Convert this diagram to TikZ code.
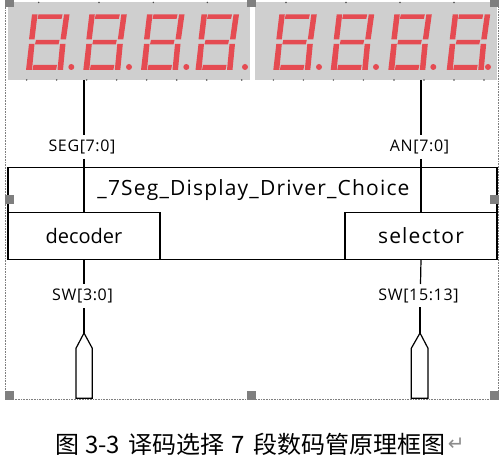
\documentclass[tikz,border=0pt]{standalone}
\usepackage{fontspec}
\setmainfont{Open Sans}
\newfontfamily\cjkfont{Noto Sans CJK SC}[Scale=1]
\newfontfamily\symfont{DejaVu Sans}
\newfontfamily\widefont{Open Sans}[LetterSpace=5.6]
\newfontfamily\labelfont{Open Sans}[LetterSpace=4]
\usetikzlibrary{positioning,calc}
\tikzset{>=latex}
\definecolor{panelgray}{HTML}{CFCFCF}
\definecolor{segred}{HTML}{E54B52}
\definecolor{handlegray}{HTML}{7F7F7F}
\tikzset{
    panel/.style={fill=panelgray,draw=none,minimum width=242pt,minimum height=78pt,inner sep=0pt},
    box/.style={draw=black,line width=1.2pt,inner sep=0pt,font=\fontsize{20}{24}\selectfont},
    portlabel/.style={inner sep=0pt,font=\fontsize{16}{19}\labelfont},
    wire/.style={draw=black,line width=1.2pt},
    pin/.style={draw=black,line width=1.2pt,fill=white,line join=miter},
    handle/.style={fill=handlegray,draw=none,minimum size=9pt,inner sep=0pt},
    seg/.style={fill=segred,draw=none}
}
\newcommand{\sevendigit}[2]{%
    \begin{scope}[xshift=#1pt]
        \fill[seg] (38.5,14.5) -- (62.5,14.5) -- (61.5,19) -- (37.5,19) -- cycle;
        \fill[seg] (36,40) -- (59.5,40) -- (58.5,44.5) -- (35,44.5) -- cycle;
        \fill[seg] (33.5,65) -- (57,65) -- (56,70) -- (32.5,70) -- cycle;
        \fill[seg] (32,14.5) -- (37.5,14.5) -- (34.5,39.5) -- (29,39.5) -- cycle;
        \fill[seg] (29,44) -- (34.5,44) -- (32,70) -- (26,70) -- cycle;
        \fill[seg] (64,14.5) -- (69.5,14.5) -- (66,39.5) -- (60.5,39.5) -- cycle;
        \fill[seg] (60,44) -- (65.5,44) -- (63,70) -- (57.5,70) -- cycle;
    \end{scope}
    \fill[seg] (71.3+#2,67) circle (3);
}

\begin{document}
\begin{tikzpicture}[x=1pt,y=-1pt]
        \useasboundingbox (0,0) rectangle (500,462);

        % selection frame
        \draw[handlegray,densely dotted,line width=0.6pt] (5.5,2) rectangle (498.5,399.3);

        % displays
        \node[panel] (segdisp) at (129,41) {};
        \node[panel] (andisp) at (376,41) {};
        \foreach \dx/\dd in {0/0,57.3/57.7,115/115,169.5/173.7,247.3/247.7,304.7/304.7,362.3/362,420.7/416.7}
            \sevendigit{\dx}{\dd};
        \foreach \px in {38.7,99,153.3,207.3,286,346,400,454}
            \fill[black!70] (\px,2.5) circle (0.8);
        \foreach \px in {26.7,56.7,86.7,116.7,146.7,176.7,206.7,241.7,273.3,303.3,333.3,363.3,394,424,454,484}
            \fill[black!70] (\px,80) circle (0.8);

        % blocks
        \node[box,minimum width=489pt,minimum height=92.5pt] (driver) at (252.5,213.5) {};
        \node[inner sep=0pt,font=\fontsize{21}{25}\widefont] (title) at (253.5,190) {\_7Seg\_Display\_Driver\_Choice};
        \node[box,minimum width=152pt,minimum height=47pt] (decoder) at (84,236) {decoder};
        \node[box,minimum width=152pt,minimum height=47pt,font=\fontsize{21}{25}\widefont] (selector) at (421,236) {selector};

        % labels
        \node[portlabel] (seglabel) at (82,147) {SEG[7:0]};
        \node[portlabel] (anlabel) at (419.5,147) {AN[7:0]};
        \node[portlabel] (swlow) at (82.5,296) {SW[3:0]};
        \node[portlabel] (swhigh) at (418.5,296) {SW[15:13]};

        % input pins
        \draw[pin] (84,333) -- (92.3,348.3) -- (92.3,398.3) -- (76,398.3) -- (76,348.3) -- cycle;
        \draw[pin] (420,333) -- (428,348.3) -- (428,398.3) -- (411.3,398.3) -- (411.3,348.3) -- cycle;

        % wire ends
        \coordinate (segout) at (84,80);
        \coordinate (segstop) at (84,135);
        \coordinate (segback) at (84,159);
        \coordinate (segin) at (84,212.5);
        \coordinate (anout) at (421,80);
        \coordinate (anstop) at (421,135);
        \coordinate (anback) at (421,159);
        \coordinate (anin) at (421,212.5);
        \coordinate (decout) at (84,259.5);
        \coordinate (decstop) at (84,284);
        \coordinate (decback) at (84,308);
        \coordinate (dectip) at (84,333);
        \coordinate (selout) at (421,259.5);
        \coordinate (selstop) at (420.5,284);
        \coordinate (selback) at (420,307);
        \coordinate (seltip) at (420,333);

        % wires
        \draw[wire] (segout) -- (segstop);
        \draw[wire] (segback) -- (segin);
        \draw[wire] (anout) -- (anstop);
        \draw[wire] (anback) -- (anin);
        \draw[wire] (decout) -- (decstop);
        \draw[wire] (decback) -- (dectip);
        \draw[wire] (selout) -- (selstop);
        \draw[wire] (selback) -- (seltip);

        % handles
        \foreach \hx/\hy in {9.5/2.5,251/2.5,494.5/2.5,9.5/199.5,494.5/199.5,9.5/395.5,251.5/395.5,494.5/395.5}
            \node[handle] at (\hx,\hy) {};

        % caption
        \node[anchor=west,inner sep=0pt,font=\fontsize{24}{28}\cjkfont] (caption) at (55,444) {图\hspace{6pt}3-3\hspace{8pt}译码选择\hspace{7pt}7\hspace{9pt}段数码管原理框图};
        \node[right=2pt of caption,inner sep=0pt,text=black!45,font=\fontsize{20}{24}\symfont] (parmark) {↵};
    \end{tikzpicture}
\end{document}
